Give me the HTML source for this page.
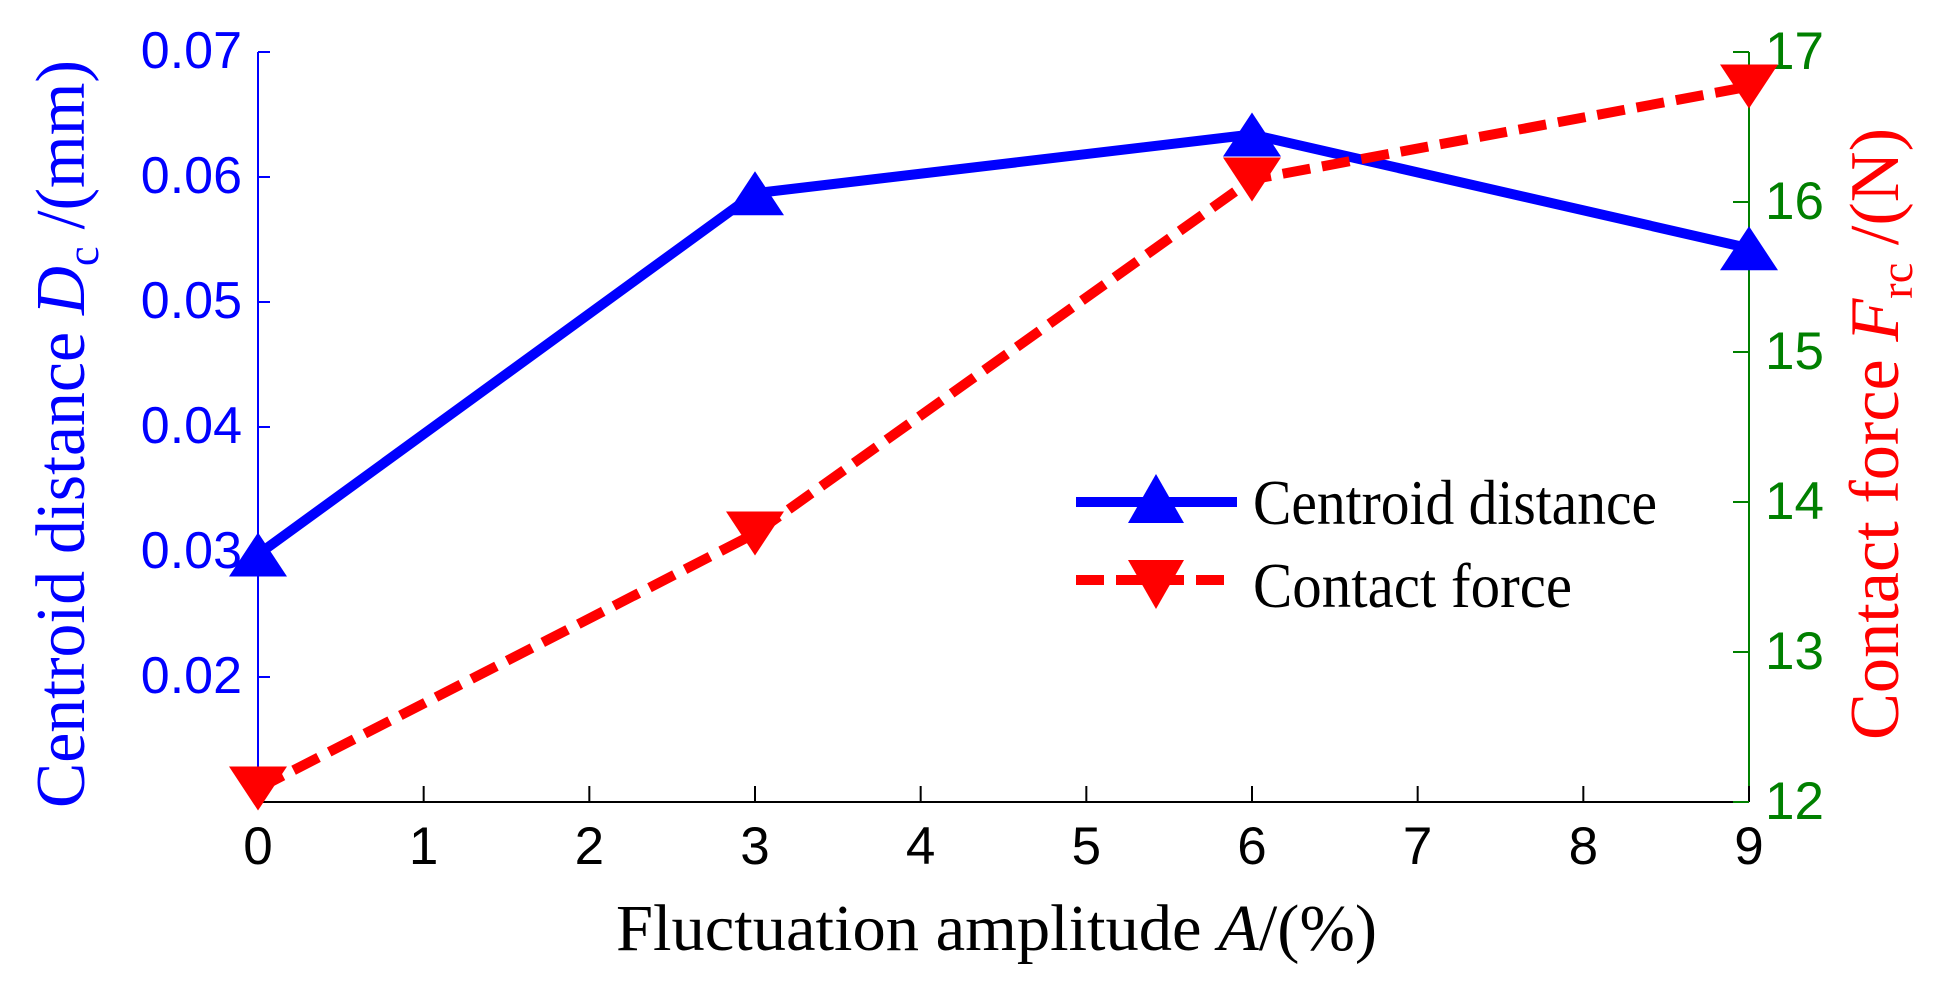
<!DOCTYPE html>
<html><head><meta charset="utf-8"><style>html,body{margin:0;padding:0;background:#fff}svg{display:block}</style></head>
<body>
<svg id="chart" width="1939" height="986" viewBox="0 0 1939 986" xmlns="http://www.w3.org/2000/svg">
<g id="axes"></g>
<g id="series"></g>
<g id="legend">
  <line x1="1076" y1="502" x2="1237" y2="502" stroke="#0000ff" stroke-width="10"/>
  <polygon points="1156,474 1184,523 1128,523" fill="#0000ff"/>
  <text x="1253" y="524" font-family="Liberation Serif, serif" font-size="64" textLength="404" lengthAdjust="spacingAndGlyphs">Centroid distance</text>
  <line x1="1076" y1="580" x2="1230" y2="580" stroke="#ff0000" stroke-width="10" stroke-dasharray="28,12"/>
  <polygon points="1128,560 1184,560 1156,609" fill="#ff0000"/>
  <text x="1253" y="607" font-family="Liberation Serif, serif" font-size="64" textLength="319" lengthAdjust="spacingAndGlyphs">Contact force</text>
</g>
<text x="616" y="950" font-family="Liberation Serif, serif" font-size="66" textLength="761" lengthAdjust="spacingAndGlyphs">Fluctuation amplitude <tspan font-style="italic">A</tspan>/(%)</text>
<text transform="translate(84,808) rotate(-90)" x="0" y="0" fill="#0000ff" font-family="Liberation Serif, serif" font-size="70" textLength="748" lengthAdjust="spacingAndGlyphs">Centroid distance <tspan font-style="italic">D</tspan><tspan font-size="46" dy="14">c</tspan><tspan dy="-14"> /(mm)</tspan></text>
<text transform="translate(1898,740) rotate(-90)" x="0" y="0" fill="#ff0000" font-family="Liberation Serif, serif" font-size="70" textLength="612" lengthAdjust="spacingAndGlyphs">Contact force <tspan font-style="italic">F</tspan><tspan font-size="46" dy="14">rc</tspan><tspan dy="-14"> /(N)</tspan></text>
</svg>
<script>
const xValues = [0, 3, 6, 9];
const centroidDistance = [0.0298, 0.0587, 0.0634, 0.0543];
const contactForce = [12.09, 13.79, 16.15, 16.77];
const xTicks = [0,1,2,3,4,5,6,7,8,9];
const leftTicks = [0.02,0.03,0.04,0.05,0.06,0.07];
const leftTickLabels = ["0.02","0.03","0.04","0.05","0.06","0.07"];
const rightTicks = [12,13,14,15,16,17];
const rightTickLabels = ["12","13","14","15","16","17"];

const NS = "http://www.w3.org/2000/svg";
const X0 = 258, X1 = 1749, YT = 52, YB = 802;
const xs = v => X0 + (v - 0) / 9 * (X1 - X0);
const yl = v => YB - (v - 0.01) / 0.06 * (YB - YT);
const yr = v => YB - (v - 12) / 5 * (YB - YT);
function mk(tag, attrs, parent) {
  const e = document.createElementNS(NS, tag);
  for (const k in attrs) e.setAttribute(k, attrs[k]);
  parent.appendChild(e);
  return e;
}
const axes = document.getElementById('axes');
const series = document.getElementById('series');

let el = mk('line', {x1:X0, y1:YB, x2:X1, y2:YB, stroke:'#000', 'stroke-width':2}, axes);


el = mk('line', {x1:X0, y1:YT, x2:X0, y2:YB, stroke:'#0000ff', 'stroke-width':2}, axes);


el = mk('line', {x1:X1, y1:YT, x2:X1, y2:YB, stroke:'#008000', 'stroke-width':2}, axes);



xTicks.forEach(t => {
  const x = xs(t);
  const tk = mk('line', {x1:x, y1:YB, x2:x, y2:YB-16, stroke:'#000', 'stroke-width':2}, axes);
  
  
  const lb = mk('text', {x:x, y:864, 'text-anchor':'middle', 'font-family':'Liberation Sans, sans-serif', 'font-size':53, fill:'#000'}, axes);
  lb.textContent = String(t);
  
  
});
leftTicks.forEach((t, i) => {
  const y = yl(t);
  const tk = mk('line', {x1:X0, y1:y, x2:X0+12, y2:y, stroke:'#0000ff', 'stroke-width':2}, axes);
  
  
  const lb = mk('text', {x:242, y:y+16, 'text-anchor':'end', 'font-family':'Liberation Sans, sans-serif', 'font-size':52, fill:'#0000ff'}, axes);
  lb.textContent = leftTickLabels[i];
  
  
});
rightTicks.forEach((t, i) => {
  const y = yr(t);
  const tk = mk('line', {x1:X1-16, y1:y, x2:X1, y2:y, stroke:'#008000', 'stroke-width':2}, axes);
  
  
  const lb = mk('text', {x:1765, y:y+17, 'font-family':'Liberation Sans, sans-serif', 'font-size':53, fill:'#008000'}, axes);
  lb.textContent = rightTickLabels[i];
  
  
});

const bluePts = xValues.map((x, i) => xs(x) + ',' + yl(centroidDistance[i])).join(' ');
const redPts = xValues.map((x, i) => xs(x) + ',' + yr(contactForce[i])).join(' ');
el = mk('polyline', {points:bluePts, fill:'none', stroke:'#0000ff', 'stroke-width':10, 'stroke-linejoin':'miter'}, series);


el = mk('polyline', {points:redPts, fill:'none', stroke:'#ff0000', 'stroke-width':10, 'stroke-dasharray':'28,12'}, series);


xValues.forEach((x, i) => {
  const cx = xs(x), cy = yl(centroidDistance[i]);
  const m = mk('polygon', {points:`${cx},${cy-22} ${cx+29},${cy+22} ${cx-29},${cy+22}`, fill:'#0000ff'}, series);
  
  
});
xValues.forEach((x, i) => {
  const cx = xs(x), cy = yr(contactForce[i]);
  const m = mk('polygon', {points:`${cx-29},${cy-22} ${cx+29},${cy-22} ${cx},${cy+22}`, fill:'#ff0000'}, series);
  
  
});
</script>
</body></html>
